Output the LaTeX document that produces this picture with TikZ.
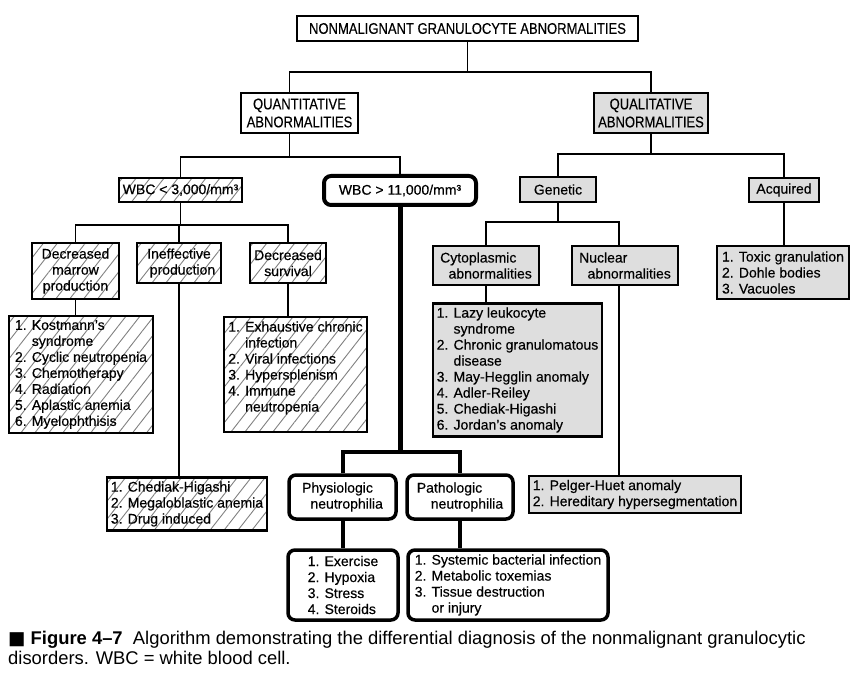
\documentclass[tikz,border=0pt]{standalone}
\usepackage{fontspec}
\setmainfont{Liberation Sans}
\newfontfamily\condfont[FakeStretch = 0.84, FakeBold = 0.3]{Liberation Sans}
\newfontfamily\boxfont[FakeBold = 0.35]{Liberation Sans}
\newfontfamily\symfont{DejaVu Sans}
\usetikzlibrary{positioning,patterns.meta}
\definecolor{boxgrey}{gray}{0.87}
\definecolor{hatchgrey}{gray}{0.5}
\newcommand\listsize{\boxfont\fontsize{14}{16}\selectfont}

\begin{document}
\begin{tikzpicture}[x = 1pt, y = -1pt,
	plainbox/.style = {draw, line width = 2pt, align = center, inner sep = 0pt, font = \condfont\fontsize{15.5}{18}\selectfont},
	greybox/.style = {draw, line width = 2.2pt, fill = boxgrey, inner sep = 4pt, font = \listsize},
	hatchbox/.style = {draw, line width = 2.2pt, pattern = {Lines[angle = 52, distance = 11pt, line width = .9pt]}, pattern color = hatchgrey, inner sep = 4pt, font = \listsize},
	roundbox/.style = {draw, line width = 3.5pt, rounded corners = 7pt, inner sep = 4pt, font = \listsize},
	thinline/.style = {line width = 1.2pt},
	midline/.style = {line width = 2.4pt},
	thickline/.style = {line width = 5pt}]
	\useasboundingbox (0,0) rectangle (863,674);
	% top levels
	\node[plainbox, minimum width = 341pt, minimum height = 25pt] (top) at (467.5,28.5) {NONMALIGNANT GRANULOCYTE ABNORMALITIES};
	\node[plainbox, line width = 2.4pt, minimum width = 117pt, minimum height = 40pt] (quant) at (299.5,113) {QUANTITATIVE\\ABNORMALITIES};
	\node[plainbox, line width = 2.4pt, fill = boxgrey, minimum width = 114pt, minimum height = 40pt] (qual) at (651,113) {QUALITATIVE\\ABNORMALITIES};
	% quantitative side
	\node[hatchbox, minimum width = 119pt, minimum height = 24pt] (lowwbc) at (180.5,190) {WBC < 3,000/mm³};
	\node[roundbox, line width = 4pt, minimum width = 152pt, minimum height = 29pt] (highwbc) at (400,190.5) {WBC > 11,000/mm³};
	\node[hatchbox, align = center, minimum width = 87pt, minimum height = 56pt] (dmp) at (75.5,271) {Decreased\\marrow\\production};
	\node[hatchbox, align = center, minimum width = 84pt, minimum height = 40pt] (ineff) at (179,263) {Ineffective\\\hspace*{.5em}production};
	\node[hatchbox, align = center, minimum width = 76pt, minimum height = 40pt] (dsurv) at (288,263) {Decreased\\survival};
	\node[hatchbox, align = left, minimum width = 144pt, minimum height = 115pt] (dmplist) at (81,374.5) {1. Kostmann’s\\\phantom{1. }syndrome\\2. Cyclic neutropenia\\3. Chemotherapy\\4. Radiation\\5. Aplastic anemia\\6. Myelophthisis};
	\node[hatchbox, align = left, minimum width = 141pt, minimum height = 115pt] (dsurvlist) at (295.5,374.5) {1. Exhaustive chronic\\\phantom{1. }infection\\2. Viral infections\\3. Hypersplenism\\4. Immune\\\phantom{4. }neutropenia\\\mbox{}};
	\node[hatchbox, align = left, minimum width = 158pt, minimum height = 52pt] (ineflist) at (187,504) {1. Chediak-Higashi\\2. Megaloblastic anemia\\3. Drug induced};
	\node[roundbox, align = left, minimum width = 107pt, minimum height = 44pt] (physio) at (342.5,497) {Physiologic\\\hspace*{.6em}neutrophilia};
	\node[roundbox, align = left, minimum width = 106pt, minimum height = 44pt] (patho) at (460,497) {Pathologic\\\hspace*{1em}neutrophilia};
	\node[roundbox, align = left, minimum width = 110pt, minimum height = 70pt] (physlist) at (343,585) {1. Exercise\\2. Hypoxia\\3. Stress\\4. Steroids};
	\node[roundbox, align = left, minimum width = 200pt, minimum height = 70pt] (pathlist) at (508,585) {1. Systemic bacterial infection\\2. Metabolic toxemias\\3. Tissue destruction\\\phantom{3. }or injury};
	% qualitative side
	\node[greybox, minimum width = 76pt, minimum height = 25pt] (genetic) at (558,189.5) {Genetic};
	\node[greybox, minimum width = 70pt, minimum height = 24pt] (acquired) at (784,190) {Acquired};
	\node[greybox, align = left, minimum width = 106pt, minimum height = 39pt] (cyto) at (486,265.5) {Cytoplasmic\\\hspace*{.6em}abnormalities};
	\node[greybox, align = left, minimum width = 106pt, minimum height = 39pt] (nucl) at (625,265.5) {Nuclear\\\hspace*{.6em}abnormalities};
	\node[greybox, align = left, minimum width = 169pt, minimum height = 128pt] (cytolist) at (517.5,370) {1. Lazy leukocyte\\\phantom{1. }syndrome\\2. Chronic granulomatous\\\phantom{2. }disease\\3. May-Hegglin anomaly\\4. Adler-Reiley\\5. Chediak-Higashi\\6. Jordan’s anomaly};
	\node[greybox, align = left, minimum width = 212pt, minimum height = 37pt] (nucllist) at (635,494.5) {1. Pelger-Huet anomaly\\2. Hereditary hypersegmentation};
	\node[greybox, align = left, minimum width = 132pt, minimum height = 53pt] (acqlist) at (783,272.5) {1. Toxic granulation\\2. Dohle bodies\\3. Vacuoles};
	% caption
	\node[anchor = north west, align = left, inner sep = 0pt, font = \fontsize{18.4}{20}\selectfont] (caption) at (8,631) {{\symfont ■}\ \textbf{Figure 4–7}\ \ Algorithm demonstrating the differential diagnosis of the nonmalignant granulocytic\\disorders. WBC = white blood cell.};
	% connectors
	\coordinate (topfork) at (top.south |- 0,72);
	\draw[thinline] (top.south) -- (topfork);
	\draw[thinline] ([xshift = -10pt]quant.north) |- (topfork) -| (qual.north);
	\coordinate (quantfork) at ([xshift = -10pt]quant.south |- 0,157);
	\draw[thinline] ([xshift = -10pt]quant.south) -- (quantfork);
	\draw[thinline] (lowwbc.north) |- (quantfork) -| (highwbc.north);
	\coordinate (lowfork) at (lowwbc.south |- 0,225);
	\draw[thinline] (lowwbc.south) -- (lowfork);
	\draw[thinline] (dmp.north) |- (lowfork) -| (dsurv.north);
	\draw[thinline] (ineff.north |- lowfork) -- (ineff.north);
	\draw[thinline] (dmp.south) -- (dmp.south |- dmplist.north);
	\draw[thinline] (ineff.south) -- (ineff.south |- ineflist.north);
	\draw[thinline] (dsurv.south) -- (dsurv.south |- dsurvlist.north);
	\coordinate (highfork) at (highwbc.south |- 0,452);
	\draw[thickline] (highwbc.south) -- (highfork);
	\draw[thickline, line width = 4pt] (physio.north) |- (highfork) -| (patho.north);
	\draw[thickline, line width = 4pt] (physio.south) -- (physio.south |- physlist.north);
	\draw[thickline, line width = 4pt] (patho.south) -- (patho.south |- pathlist.north);
	\coordinate (qualfork) at (qual.south |- 0,154);
	\draw[midline] (qual.south) -- (qualfork);
	\draw[midline] (genetic.north) |- (qualfork) -| (acquired.north);
	\coordinate (genfork) at (genetic.south |- 0,222);
	\draw[midline] (genetic.south) -- (genfork);
	\draw[midline] (cyto.north) |- (genfork) -| ([xshift = -6pt]nucl.north);
	\draw[midline] (cyto.south) -- (cyto.south |- cytolist.north);
	\draw[midline] ([xshift = -6pt]nucl.south) -- ([xshift = -6pt]nucl.south |- nucllist.north);
	\draw[midline] (acquired.south) -- (acquired.south |- acqlist.north);
\end{tikzpicture}
\end{document}
